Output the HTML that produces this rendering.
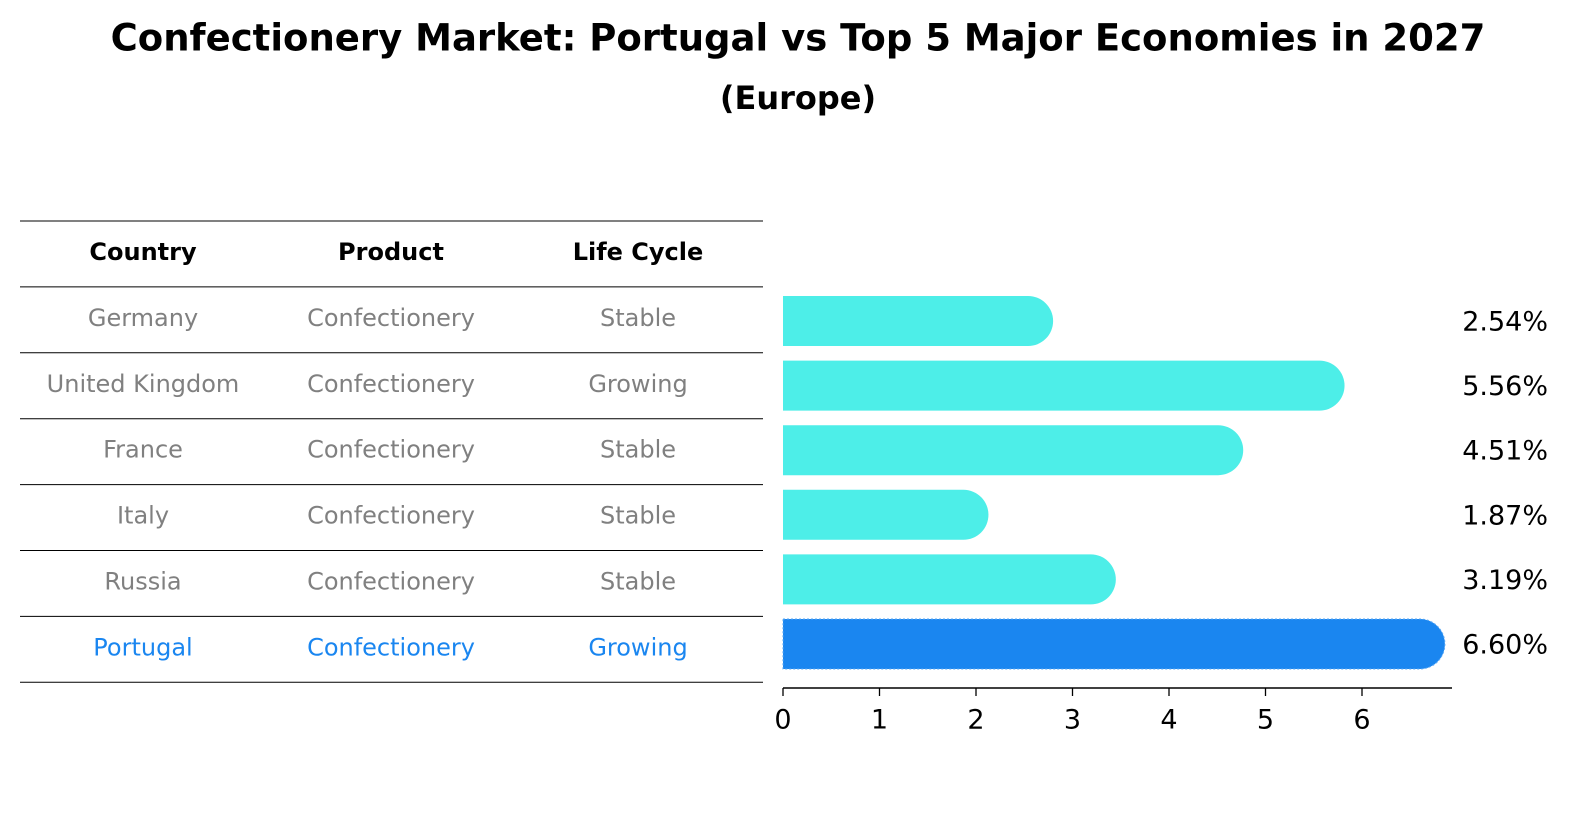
<!DOCTYPE html>
<html><head><meta charset="utf-8">
<style>
body{margin:0;background:#fff;font-family:"DejaVu Sans","Liberation Sans",sans-serif;}
#wrap{position:relative;width:1586px;height:823px;overflow:hidden;}
.t{position:absolute;white-space:nowrap;transform:translate(-50%,-50%);}
</style></head><body>
<div id="wrap">
<div class="t" style="left:798px;top:38px;font-size:37px;font-weight:bold;">Confectionery Market: Portugal vs Top 5 Major Economies in 2027</div>
<div class="t" style="left:798px;top:98px;font-size:32px;font-weight:bold;">(Europe)</div>
<svg id="svg" width="1586" height="823" style="position:absolute;left:0;top:0"></svg>
</div>
<script>
const countries=["Germany","United Kingdom","France","Italy","Russia","Portugal"];
const products=["Confectionery","Confectionery","Confectionery","Confectionery","Confectionery","Confectionery"];
const lifeCycles=["Stable","Growing","Stable","Stable","Stable","Growing"];
const values=[2.54,5.56,4.51,1.87,3.19,6.60];
const ticks=[0,1,2,3,4,5,6];

const NS="http://www.w3.org/2000/svg";
const svg=document.getElementById('svg');
function mk(tag,attrs,parent){const e=document.createElementNS(NS,tag);for(const k in attrs)e.setAttribute(k,attrs[k]);(parent||svg).appendChild(e);return e;}
const FF='DejaVu Sans, Liberation Sans, sans-serif';
const x0=783,pxPer=96.5;
const xs=v=>x0+v*pxPer;
const rowY=i=>321+i*64.6;
const lineY=i=>221+i*65.9;
const colX=[143,391,638];

for(let i=0;i<8;i++){
  const l=mk('line',{x1:20,x2:763,y1:lineY(i),y2:lineY(i),stroke:'#000','stroke-width':1});
  
  
}
const heads=["Country","Product","Life Cycle"];
heads.forEach((h,j)=>{
  const t=mk('text',{x:colX[j],y:lineY(0)+32,'text-anchor':'middle','dominant-baseline':'middle','font-size':24,'font-weight':'bold','font-family':FF});
  t.textContent=h;
  
  
});
countries.forEach((c,i)=>{
  const cy=lineY(i+1)+32;
  const col=i===countries.length-1?'#1a86f0':'#808080';
  [c,products[i],lifeCycles[i]].forEach((s,j)=>{
    const t=mk('text',{x:colX[j],y:cy,'text-anchor':'middle','dominant-baseline':'middle','font-size':24,fill:col,'font-family':FF});
    t.textContent=s;
    
    
  });
});
const h=50,r=25;
values.forEach((v,i)=>{
  const cy=rowY(i),xe=xs(v);
  const col=i===values.length-1?'#1a86f0':'#4deee8';
  const d=`M${x0},${cy-h/2} L${xe},${cy-h/2} A${r},${r} 0 0 1 ${xe},${cy+h/2} L${x0},${cy+h/2} Z`;
  const p=mk('path',{d:d,fill:col});
  if(i===values.length-1){p.setAttribute('stroke','#5aa8f5');p.setAttribute('stroke-dasharray','2,2');p.setAttribute('stroke-width','1');}
  
  
  const t=mk('text',{x:1548,y:cy+2,'text-anchor':'end','dominant-baseline':'middle','font-size':27,'font-family':FF});
  t.textContent=v.toFixed(2)+'%';
  
  
});
const ax=mk('line',{x1:x0,x2:1452,y1:688,y2:688,stroke:'#000','stroke-width':1.5});


ticks.forEach(tv=>{
  const tk=mk('line',{x1:xs(tv),x2:xs(tv),y1:688,y2:696,stroke:'#000','stroke-width':1.3});
  
  
  const t=mk('text',{x:xs(tv),y:721,'text-anchor':'middle','dominant-baseline':'middle','font-size':27,'font-family':FF});
  t.textContent=tv;
  
  
});
</script>
</body></html>
